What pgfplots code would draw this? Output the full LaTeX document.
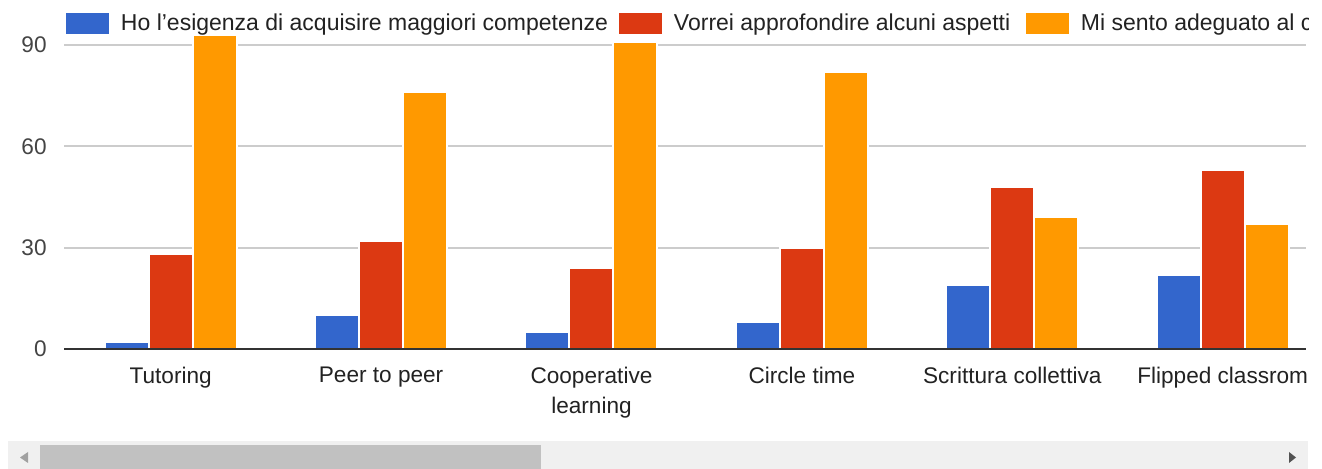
\documentclass[border=0pt]{standalone}
\usepackage{pgfplots}
\pgfplotsset{compat=1.18}
\usepackage{fontspec}
\setmainfont{Liberation Sans}
\definecolor{gblue}{HTML}{3366CC}
\definecolor{gred}{HTML}{DC3912}
\definecolor{gorange}{HTML}{FF9900}
\definecolor{gridc}{HTML}{CCCCCC}
\definecolor{axisc}{HTML}{333333}
\definecolor{ticktext}{HTML}{444444}
\definecolor{labtext}{HTML}{222222}
\definecolor{track}{HTML}{F0F0F0}
\definecolor{thumb}{HTML}{C1C1C1}
\newcommand{\gfont}{\fontsize{11.3}{15}\selectfont}
\newcommand{\lfont}{\fontsize{11.5}{14}\selectfont}
\pgfplotsset{gleg/.style={legend image code/.code={\fill[##1,draw=none] (0pt,-5.25pt) rectangle (21.5pt,5.25pt); \path (27pt,0pt);}}}
\begin{document}
\begin{tikzpicture}
\useasboundingbox (0,0) rectangle (661pt,234.5pt);
\fill[white] (0,0) rectangle (661pt,234.5pt);
% scrollbar
\fill[track] (3.85pt,0) rectangle (654pt,14pt);
\fill[thumb] (20pt,0) rectangle (270.5pt,12pt);
\fill[black!37] (10pt,5.75pt) -- (14pt,8.5pt) -- (14pt,3pt) -- cycle;
\fill[black!68] (648pt,5.75pt) -- (644.5pt,8.5pt) -- (644.5pt,3pt) -- cycle;
\begin{scope}
\clip (0,14.5pt) rectangle (654pt,234.5pt);
\begin{axis}[
  at={(32pt,60pt)}, anchor=south west,
  scale only axis, width=621pt, height=152pt,
  xmin=-0.507, xmax=5.396, ymin=0, ymax=90,
  clip=false,
  axis line style={draw=none},
  major tick length=0pt,
  ytick={0,30,60,90},
  ymajorgrids, grid style={gridc, line width=0.9pt},
  xtick={0,1,2,3,4,5},
  xticklabels={Tutoring,Peer to peer,Cooperative\\learning,Circle time,Scrittura collettiva,Flipped classrom},
  /pgf/number format/assume math mode=true,
  yticklabel style={font=\gfont, text=ticktext, anchor=east, inner sep=0pt, xshift=-8.5pt},
  xticklabel style={font=\gfont, text=labtext, align=center, anchor=north, inner sep=0pt, yshift=-9pt},
  ybar=0pt, bar width=22pt,
  every axis plot/.append style={draw=white, line width=1pt},
  legend columns=3,
  legend style={at={(axis description cs:0.0016,1.0707)}, anchor=west, draw=none, fill=none,
    inner sep=0pt, outer sep=0pt, font=\lfont, text=labtext, column sep=0pt,
    nodes={inner sep=0pt}},
  legend cell align=left,
]
\addplot[gleg, fill=gblue] coordinates {(0,2) (1,10) (2,5) (3,8) (4,19) (5,22)};
\addlegendentry{\makebox[249pt][l]{Ho l’esigenza di acquisire maggiori competenze}}
\addplot[gleg, fill=gred] coordinates {(0,28) (1,32) (2,24) (3,30) (4,48) (5,53)};
\addlegendentry{\makebox[176pt][l]{Vorrei approfondire alcuni aspetti}}
\addplot[gleg, fill=gorange] coordinates {(0,93) (1,76) (2,91) (3,82) (4,39) (5,37)};
\addlegendentry{Mi sento adeguato al contesto}
\draw[axisc, line width=1.2pt] (axis cs:-0.507,0) -- (axis cs:5.396,0);
\end{axis}
\end{scope}
\end{tikzpicture}
\end{document}
